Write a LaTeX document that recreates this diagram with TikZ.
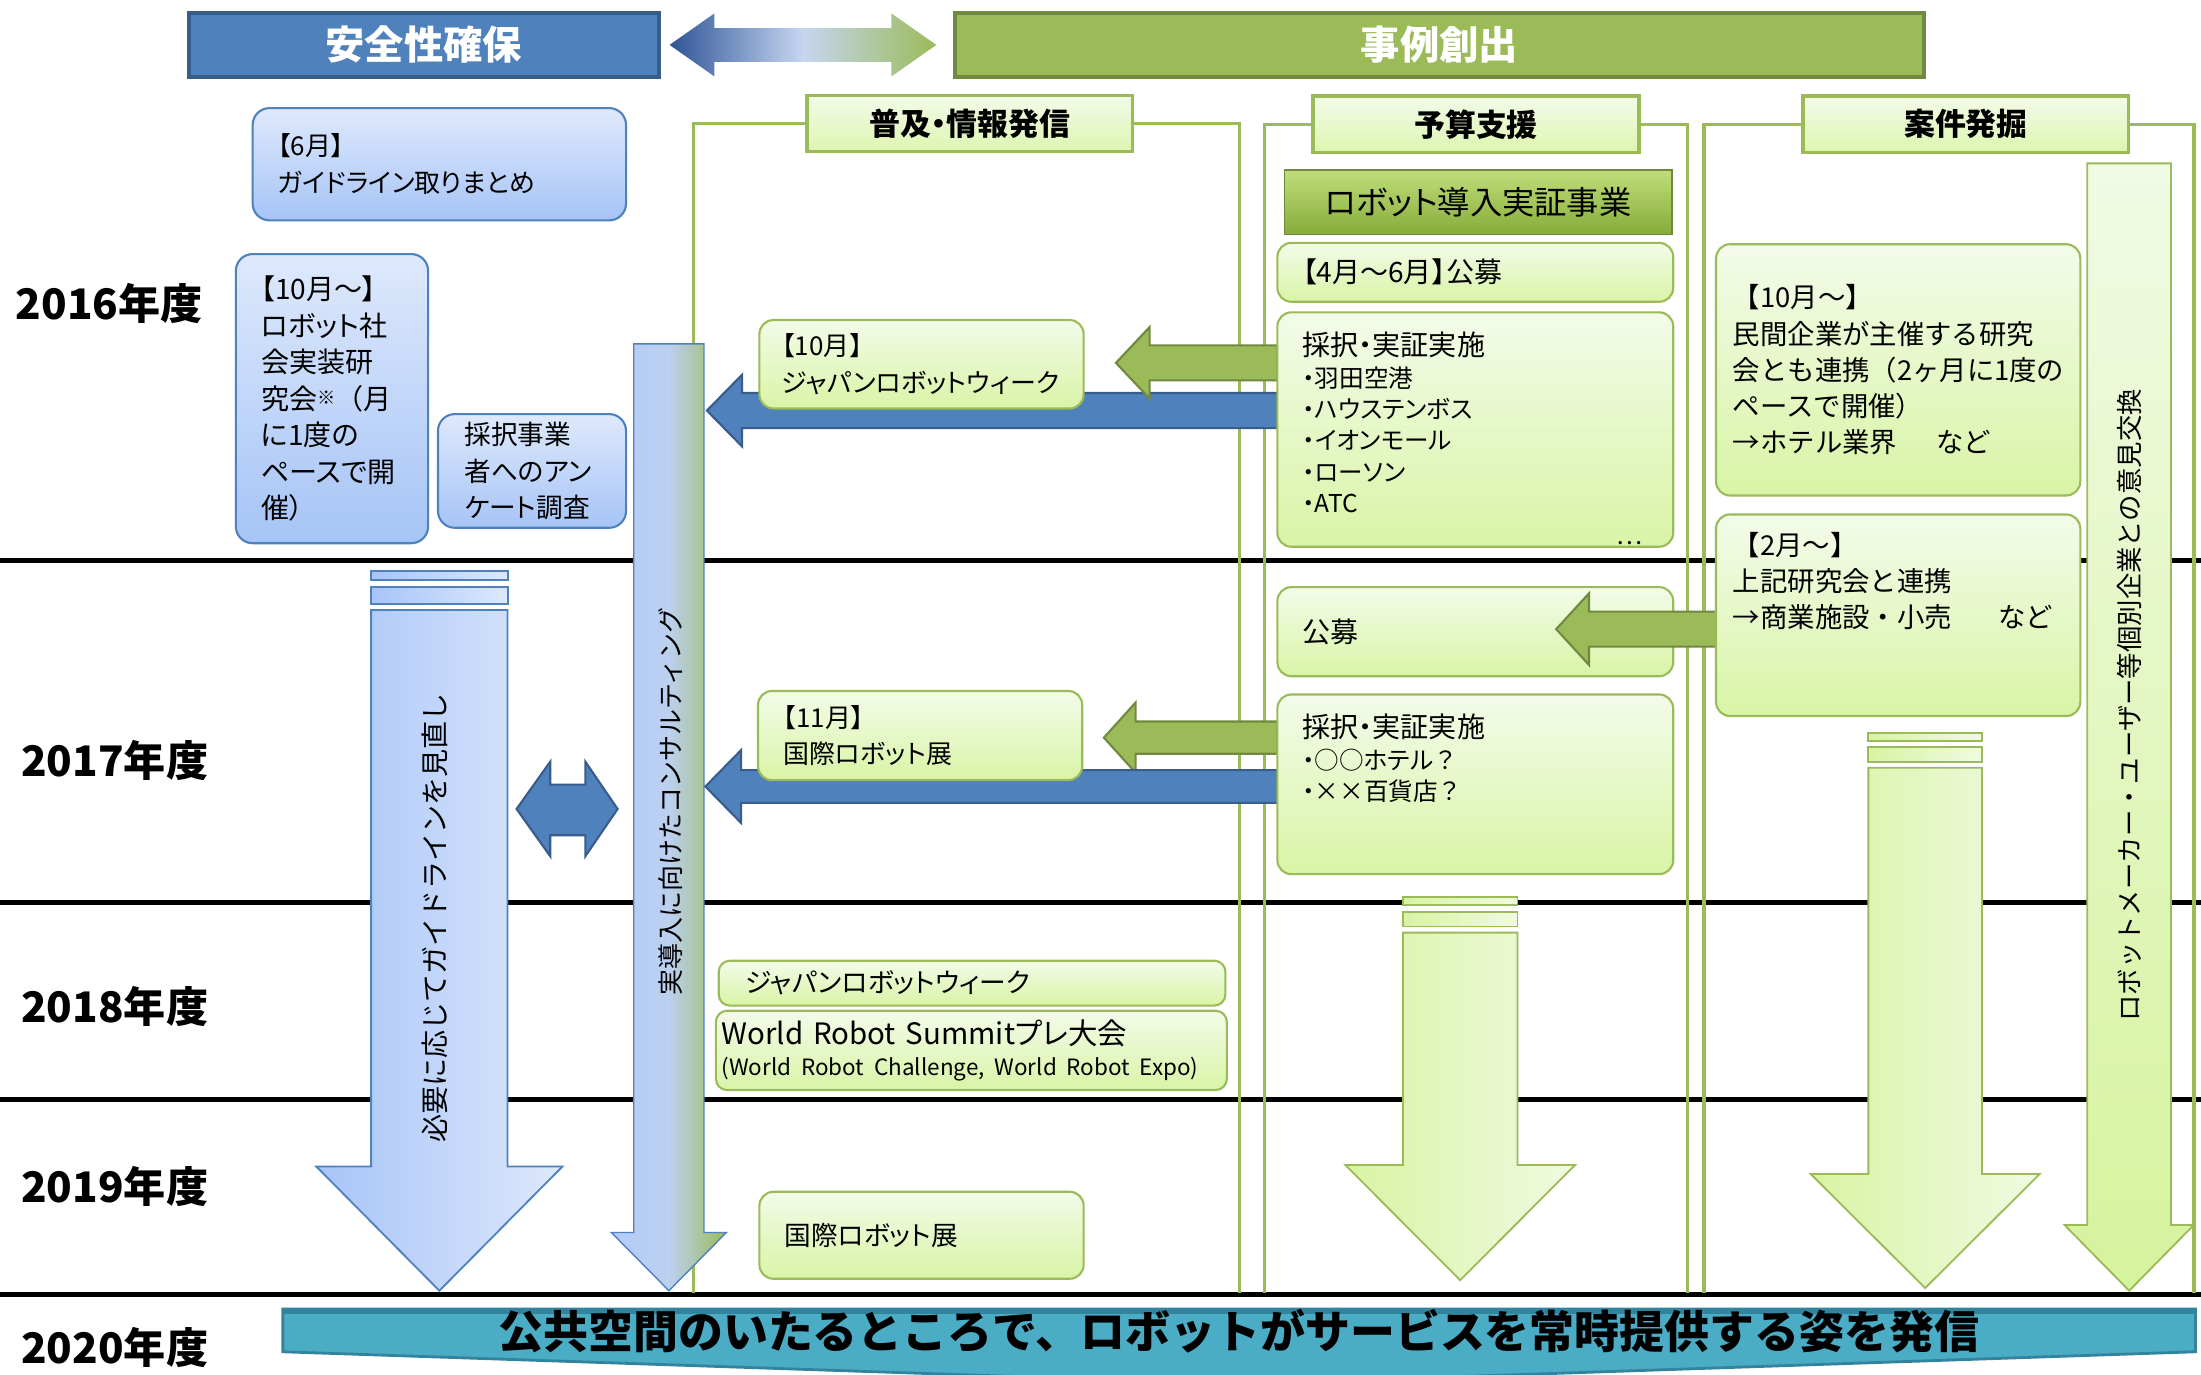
\documentclass[tikz,border=0pt]{standalone}
\usepackage{graphicx}
\usepackage{fontspec}
\setmainfont{Noto Sans CJK JP}[RawFeature=+palt]
\newfontfamily\widefont{Noto Sans CJK JP}
\usetikzlibrary{positioning}

\definecolor{ablue}{HTML}{4F81BD}
\definecolor{abluedark}{HTML}{385D8A}
\definecolor{agreen}{HTML}{9BBB59}
\definecolor{agreendark}{HTML}{71893F}
\definecolor{boxbluetop}{HTML}{DEE9FC}
\definecolor{boxbluebot}{HTML}{A6C4F6}
\definecolor{boxgreentop}{HTML}{F3FBE9}
\definecolor{boxgreenbot}{HTML}{D9F4A6}
\definecolor{headgreenbot}{HTML}{DDF5B0}
\definecolor{projtop}{HTML}{C0DE7A}
\definecolor{projbot}{HTML}{86AB3A}
\definecolor{bannerfill}{HTML}{4BACC6}
\definecolor{bannerline}{HTML}{31849B}

% block arrow to the left: style, tip x, head x, tail x, mid y, shaft half, head half
\newcommand{\leftblock}[7]{%
  \draw[#1] (#4,-#5+#6) -- (#3,-#5+#6) -- (#3,-#5+#7) -- (#2,-#5)
    -- (#3,-#5-#7) -- (#3,-#5-#6) -- (#4,-#5-#6) -- cycle;}
% block arrow downwards: style, mid x, top y, head y, tip y, shaft half, head half
\newcommand{\downblock}[7]{%
  \draw[#1] (#2-#6,-#3) -- (#2+#6,-#3) -- (#2+#6,-#4) -- (#2+#7,-#4)
    -- (#2,-#5) -- (#2-#7,-#4) -- (#2-#6,-#4) -- cycle;}

\begin{document}
\begin{tikzpicture}[x=1pt, y=1pt,
    bbox/.style = {draw=ablue, line width=1.5pt, rounded corners=12pt,
                   top color=boxbluetop, bottom color=boxbluebot,
                   align=left, inner xsep=18pt, inner ysep=0pt},
    gbox/.style = {draw=agreen, line width=1.5pt, rounded corners=10pt,
                   top color=boxgreentop, bottom color=boxgreenbot,
                   align=left, inner xsep=18pt, inner ysep=0pt},
    colhead/.style = {draw=agreen, line width=2.4pt,
                   top color=boxgreentop, bottom color=headgreenbot,
                   minimum width=232pt, minimum height=40pt,
                   font=\bfseries\fontsize{22}{24}\selectfont},
    topbar/.style = {line width=3pt, minimum height=46pt, text=white,
                   font=\bfseries\fontsize{28}{30}\selectfont},
    year/.style = {anchor=west, inner sep=0pt,
                   font=\bfseries\fontsize{30}{32}\selectfont},
    yearline/.style = {line width=3.5pt, black},
    colline/.style = {draw=agreen, line width=2.4pt},
    barrow/.style = {fill=ablue, draw=abluedark, line width=1.5pt},
    garrow/.style = {fill=agreen, draw=agreendark, line width=1.5pt},
    bdown/.style = {draw=ablue, line width=1.3pt,
                   left color={rgb,255:red,167;green,196;blue,248},
                   right color={rgb,255:red,221;green,232;blue,252}},
    cdown/.style = {draw=ablue, line width=1pt,
                   left color={rgb,255:red,178;green,203;blue,248},
                   right color=agreen,
                   middle color={rgb,255:red,188;green,208;blue,240}},
    gdown/.style = {draw=agreen, line width=1.3pt,
                   left color={rgb,255:red,216;green,243;blue,163},
                   right color={rgb,255:red,241;green,250;blue,225}},
    gdownv/.style = {draw=agreen, line width=1.3pt,
                   top color={rgb,255:red,241;green,250;blue,228},
                   bottom color={rgb,255:red,214;green,243;blue,158}},
    vtext/.style = {rotate=90, inner sep=0pt}]

\useasboundingbox (0,0) rectangle (1568,-979);
\fill[white] (0,0) rectangle (1568,-979);

% year rows
\draw[yearline] (0,-399.5) -- (1568,-399.5);
\draw[yearline] (0,-643) -- (1568,-643);
\draw[yearline] (0,-783) -- (1568,-783);
\draw[yearline] (0,-922.5) -- (1568,-922.5);
\node[year] (y2016) at (11,-216.5) {2016年度};
\node[year] (y2017) at (15,-542) {2017年度};
\node[year] (y2018) at (15,-717) {2018年度};
\node[year] (y2019) at (15,-845) {2019年度};
\node[year] (y2020) at (15,-960) {2020年度};

% top bars
\node[topbar, fill=ablue, draw=abluedark, minimum width=335pt] (safety) at (302,-32) {安全性確保};
\node[topbar, fill=agreen, draw=agreendark, minimum width=690pt] (cases) at (1025.5,-32) {事例創出};
\path[left color={rgb,255:red,47;green,84;blue,150}, right color=agreen,
      middle color={rgb,255:red,198;green,214;blue,240}]
  (477,-32) -- (509,-9.5) -- (509,-20) -- (635,-20) -- (635,-9.5) -- (667,-32)
  -- (635,-54.5) -- (635,-44) -- (509,-44) -- (509,-54.5) -- cycle;

% column heads
\node[colhead] (promo) at (691,-88) {普及・情報発信};
\node[colhead] (budget) at (1051.5,-88.5) {予算支援};
\node[colhead] (finding) at (1400.5,-88.5) {案件発掘};
\draw[colline] (promo.west) -| (494,-921);
\draw[colline] (promo.east) -| (883,-921);
\draw[colline] (budget.west) -| (901,-921);
\draw[colline] (budget.east) -| (1202,-921);
\draw[colline] (finding.west) -| (1214,-921);
\draw[colline] (finding.east) -| (1563,-921);

% long arrows
\draw[bdown] (264.5,-407) rectangle (361.7,-413);
\draw[bdown] (264.5,-418) rectangle (361.7,-430);
\downblock{bdown}{313}{434.6}{831}{919.5}{48.6}{87.7}
\node[vtext, font=\widefont\fontsize{20}{20}\selectfont] (reviewtxt) at (310,-654) {必要に応じてガイドラインを見直し};

\downblock{cdown}{476.5}{245}{878}{919.5}{25}{41}
\node[vtext, font=\widefont\fontsize{18.5}{20}\selectfont] (consulttxt) at (477.5,-571) {実導入に向けたコンサルティング};

\draw[gdown] (999.5,-638.8) rectangle (1081,-644.7);
\draw[gdown] (999.5,-649.5) rectangle (1081,-660);
\downblock{gdown}{1040.25}{664.4}{830}{912}{40.75}{81.75}

\draw[gdown] (1331,-522) rectangle (1412,-527.7);
\draw[gdown] (1331,-532) rectangle (1412,-542.6);
\downblock{gdown}{1371.5}{547}{836.4}{917.6}{40.5}{81.5}

\downblock{gdownv}{1516.8}{116.4}{872.7}{919.5}{29.8}{46}
\node[vtext, font=\widefont\fontsize{18.8}{20}\selectfont] (opiniontxt) at (1517,-502.5) {ロボットメーカー・ユーザー等個別企業との意見交換};

% both-way arrow
\draw[barrow] (368,-576.3) -- (392,-542.6) -- (392,-559) -- (417,-559) -- (417,-542.6)
  -- (440,-576.3) -- (417,-610) -- (417,-595) -- (392,-595) -- (392,-610) -- cycle;

% arrows into the promotion column
\leftblock{barrow}{503.6}{528.6}{910}{292.5}{12.5}{25.5}
\leftblock{garrow}{795}{819}{910}{258.5}{12.5}{25.5}
\leftblock{garrow}{786.4}{809}{910}{525.5}{11.5}{25}
\leftblock{barrow}{502.5}{528}{910}{560.3}{11.7}{26}

% safety boxes
\node[bbox, text width=230pt, minimum height=80pt, font=\fontsize{18.5}{26}\selectfont] (guide16) at (313,-117) {【6月】\\ガイドライン取りまとめ};
\node[bbox, text width=101pt, minimum height=206pt, font=\fontsize{20}{26}\selectfont] (study16) at (236.5,-284) {【10月～】\\ロボット社\\会実装研\\究会\raisebox{3pt}{\fontsize{13}{13}\selectfont ※}{\widefont （}月\\に1度の\\ペースで開\\催）};
\node[bbox, inner xsep=19pt, text width=96pt, minimum height=81pt, font=\fontsize{19}{26}\selectfont] (survey16) at (379,-335.5) {採択事業\\者へのアン\\ケート調査};

% promotion boxes
\node[gbox, inner xsep=16pt, text width=199pt, minimum height=63pt, font=\fontsize{18.5}{26}\selectfont] (week16) at (656.5,-259.5) {【10月】\\ジャパンロボットウィーク};
\node[gbox, inner xsep=18pt, text width=195pt, minimum height=63.5pt, font=\fontsize{18.5}{25}\selectfont] (expo17) at (655.5,-524) {【11月】\\国際ロボット展};
\node[gbox, rounded corners=8pt, inner xsep=19pt, text width=323pt, minimum height=32pt, font=\fontsize{19}{22}\selectfont] (week18) at (692.5,-700.4) {ジャパンロボットウィーク};
\node[gbox, rounded corners=8pt, inner xsep=4pt, text width=356pt, minimum height=56.5pt, font=\fontsize{21}{22}\selectfont] (summit18) at (692,-748.3) {World Robot Summitプレ大会\\{\fontsize{16}{22}\selectfont (World Robot Challenge, World Robot Expo)}};
\node[gbox, inner xsep=18pt, text width=195pt, minimum height=62pt, font=\fontsize{19}{24}\selectfont] (expo19) at (656.5,-880) {国際ロボット展};

% budget boxes
\node[draw=agreendark, line width=1.2pt, top color=projtop, bottom color=projbot,
      minimum width=276pt, minimum height=46pt, font=\fontsize{23}{25}\selectfont] (project) at (1053,-144) {ロボット導入実証事業};
\node[gbox, text width=246pt, minimum height=42pt, font=\fontsize{20}{24}\selectfont] (call16) at (1051,-194) {【4月～6月】公募};
\node[gbox, inner ysep=14pt, below=6pt of call16] (trial16) {\parbox[c][139pt][t]{246pt}{\fontsize{20}{22}\selectfont 採択・実証実施\\ \fontsize{17.5}{22.4}\selectfont ・羽田空港\\・ハウステンボス\\・イオンモール\\・ローソン\\・ATC\\ \hspace*{\fill}…\hspace*{4pt}}};
\node[gbox, text width=246pt, minimum height=63.5pt, font=\fontsize{20}{24}\selectfont] (call17) at (1051,-450) {公募};
\node[gbox, inner ysep=14pt, below=11.5pt of call17] (trial17) {\parbox[c][100pt][t]{246pt}{\fontsize{20}{22}\selectfont 採択・実証実施\\ \fontsize{17.5}{22.4}\selectfont ・○○ホテル{\widefont ？}\\・××百貨店{\widefont ？}}};
\leftblock{garrow}{1108.6}{1132}{1223}{448.2}{12.5}{25.5}

% finding boxes
\node[gbox, inner xsep=12pt, text width=235.5pt, minimum height=179pt, font=\widefont\fontsize{19.5}{25.75}\selectfont] (meet10) at (1352.25,-263.5) {【10月～】\\民間企業が主催する研究\\会とも連携（2ヶ月に1度の\\ペースで開催）\\→ホテル業界\hspace{28pt}など};
\node[gbox, inner xsep=12pt, inner ysep=13pt, below=12pt of meet10] (meet2) {\parbox[c][117.6pt][t]{235.5pt}{\widefont\fontsize{19.5}{25.5}\selectfont 【2月～】\\上記研究会と連携\\→商業施設・小売\hspace{33pt}など}};

% goal banner
\begin{scope}
  \clip (0,0) rectangle (1568,-979);
  \draw[fill=bannerfill, draw=bannerline, line width=2pt]
    (201.5,-932.6) -- (1564,-932.6) -- (1564,-963) -- (883,-986) -- (201.5,-963) -- cycle;
  \draw[bannerline, line width=4pt] (201.5,-934) -- (1564,-934);
\end{scope}
\node[inner sep=0pt, font=\widefont\bfseries\fontsize{32}{34}\selectfont] (goal) at (882.5,-948) {公共空間のいたるところで、ロボットがサービスを常時提供する姿を発信};

\end{tikzpicture}
\end{document}
